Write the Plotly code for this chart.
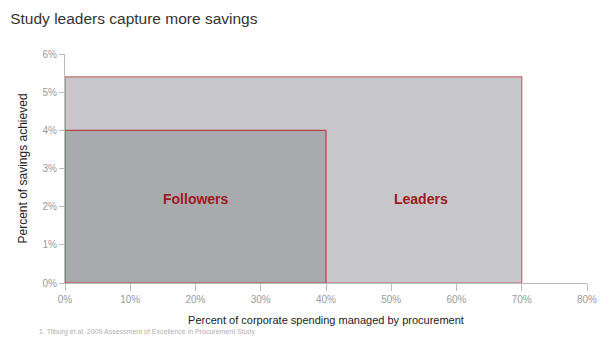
import plotly.graph_objects as go

groups = ["Leaders", "Followers"]
spend_managed = [70, 40]      # % of corporate spending managed by procurement
savings = [5.4, 4.0]          # % savings achieved
fills = ["#c7c7cb", "#a9aaad"]
edges = ["#c46a6c", "#b5474a"]
label_x = [54.5, 20]
label_y = [2.2, 2.2]

x_ticks = [0, 10, 20, 30, 40, 50, 60, 70, 80]
y_ticks = [0, 1, 2, 3, 4, 5, 6]

FONT = "Liberation Sans, Arial"

fig = go.Figure()
for g, w, h, fc, ec in zip(groups, spend_managed, savings, fills, edges):
    fig.add_trace(go.Bar(
        x=[0], y=[h], width=[w], offset=0, base=0, name=g,
        marker=dict(color=fc, line=dict(color=ec, width=1.2)),
        hoverinfo="skip", showlegend=False,
    ))

for g, lx, ly in zip(groups, label_x, label_y):
    fig.add_annotation(x=lx, y=ly, text="<b>%s</b>" % g, showarrow=False,
                       font=dict(family=FONT, size=14, color="#9b1b1e"))

fig.add_annotation(xref="paper", yref="paper", x=-0.054, y=-0.2445, xanchor="left", yanchor="bottom",
                   yshift=1,
                   text="1. Tilburg et al. 2009 Assessment of Excellence in Procurement Study",
                   showarrow=False, font=dict(family=FONT, size=7, color="#b0b0b0"))

fig.update_layout(
    barmode="overlay",
    width=600, height=339,
    margin=dict(l=65, r=13, t=54, b=56, autoexpand=False),
    paper_bgcolor="white", plot_bgcolor="white",
    font=dict(family=FONT, color="#222222"),
    title=dict(text="Study leaders capture more savings", x=0.017, xanchor="left",
               y=0.945, yanchor="middle",
               font=dict(family=FONT, size=15.5, color="#333333")),
    xaxis=dict(range=[0, 80], tickvals=x_ticks, ticktext=["%d%%" % v for v in x_ticks],
               showgrid=False, zeroline=False, showline=True, linecolor="#bbbbbb", linewidth=1,
               ticks="outside", ticklen=7, tickcolor="#bbbbbb", automargin=False,
               tickfont=dict(size=10, color="#9a9a9a"),
               title=dict(text="Percent of corporate spending managed by procurement",
                          font=dict(family=FONT, size=11, color="#222222"), standoff=12)),
    yaxis=dict(range=[0, 6], tickvals=y_ticks, ticktext=["%d%%" % v for v in y_ticks],
               showgrid=False, zeroline=False, showline=True, linecolor="#bbbbbb", linewidth=1,
               ticks="outside", ticklen=5, tickcolor="#bbbbbb", automargin=False,
               tickfont=dict(size=10, color="#9a9a9a"),
               title=dict(text="Percent of savings achieved",
                          font=dict(family=FONT, size=12, color="#222222"), standoff=12)),
)

fig.write_html("out.html")
